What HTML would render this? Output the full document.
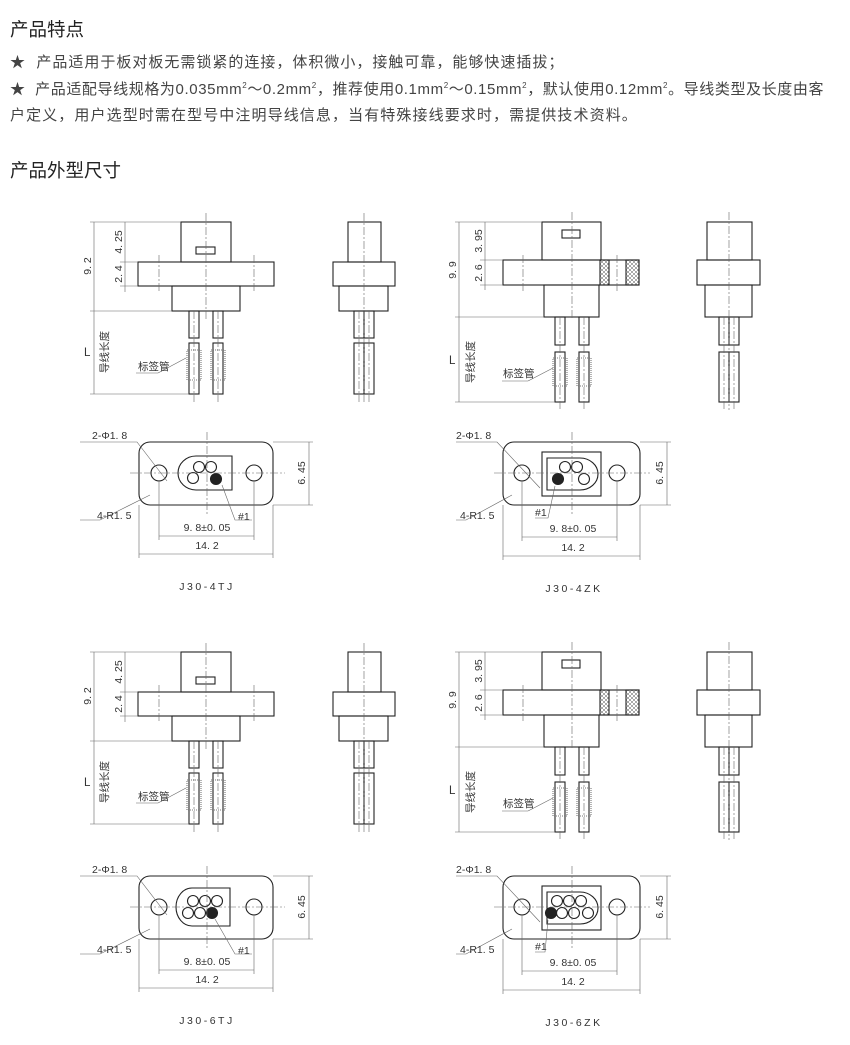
<!DOCTYPE html>
<html><head><meta charset="utf-8"><style>
body{margin:0;background:#fff;width:850px;height:1045px;overflow:hidden;font-family:"Liberation Sans","Noto Sans CJK SC",sans-serif;color:#333}
.t{position:absolute;left:10px;font-size:18.5px;color:#222}
.p{position:absolute;left:10px;font-size:15px;color:#444;white-space:nowrap;letter-spacing:1.1px}
sup{font-size:8px}
svg{position:absolute;left:0;top:0}
</style></head><body>
<div class="t" style="top:16px">产品特点</div>
<div class="p" style="top:51px;letter-spacing:1px">★&nbsp; 产品适用于板对板无需锁紧的连接，体积微小，接触可靠，能够快速插拔；</div>
<div class="p" style="top:78px;letter-spacing:0.6px">★&nbsp; 产品适配导线规格为0.035mm<sup>2</sup>～0.2mm<sup>2</sup>，推荐使用0.1mm<sup>2</sup>～0.15mm<sup>2</sup>，默认使用0.12mm<sup>2</sup>。导线类型及长度由客</div>
<div class="p" style="top:104px;letter-spacing:1.1px">户定义，用户选型时需在型号中注明导线信息，当有特殊接线要求时，需提供技术资料。</div>
<div class="t" style="top:157px">产品外型尺寸</div>
<svg width="850" height="1045" viewBox="0 0 850 1045">
<defs>
<pattern id="hx" width="4" height="4" patternUnits="userSpaceOnUse"><path d="M0 0L4 4M4 0L0 4" stroke="#555" stroke-width="0.5"/></pattern>
<g id="s4" fill="none" stroke="#222" stroke-width="1.1">
<rect x="181" y="222" width="50" height="40"/><rect x="196" y="247" width="19" height="7"/>
<rect x="138" y="262" width="136" height="24"/><rect x="172" y="286" width="68" height="25"/>
<rect x="189" y="311" width="10" height="27"/><rect x="213" y="311" width="10" height="27"/>
<rect x="189" y="343" width="10" height="51"/><rect x="213" y="343" width="10" height="51"/>
<rect x="187" y="350" width="14" height="30" stroke-dasharray="1 1" stroke="#777"/><rect x="211" y="350" width="14" height="30" stroke-dasharray="1 1" stroke="#777"/>
<g stroke="#666" stroke-width="0.6" stroke-dasharray="8 2 2 2"><path d="M206 213V320M194 311V402M218 311V402M159 255V292M254 255V292"/></g>
<g stroke="#666" stroke-width="0.6"><path d="M90 222H181M120 262H138M120 286H138M90 311H172M90 394H189M94 222V394M125 222V292"/><path d="M158 373L186 358"/><path d="M136 373H158"/></g>
<rect x="348" y="222" width="33" height="40"/><rect x="333" y="262" width="62" height="24"/><rect x="339" y="286" width="49" height="25"/>
<rect x="354" y="311" width="10" height="27"/><rect x="364" y="311" width="10" height="27"/>
<rect x="354" y="343" width="10" height="51"/><rect x="364" y="343" width="10" height="51"/>
<g stroke="#666" stroke-width="0.6" stroke-dasharray="8 2 2 2"><path d="M364 213V402M359 311V402M369 311V402"/></g>
</g>
<g id="sz" fill="none" stroke="#222" stroke-width="1.1">
<rect x="542" y="222" width="59" height="38"/><rect x="562" y="230" width="18" height="8"/>
<rect x="503" y="260" width="136" height="25"/><rect x="600" y="260" width="9" height="25" fill="url(#hx)"/><rect x="626" y="260" width="13" height="25" fill="url(#hx)"/>
<rect x="544" y="285" width="55" height="32"/>
<rect x="555" y="317" width="10" height="28"/><rect x="579" y="317" width="10" height="28"/>
<rect x="555" y="352" width="10" height="50"/><rect x="579" y="352" width="10" height="50"/>
<rect x="553" y="358" width="14" height="28" stroke-dasharray="1 1" stroke="#777"/><rect x="577" y="358" width="14" height="28" stroke-dasharray="1 1" stroke="#777"/>
<g stroke="#666" stroke-width="0.6" stroke-dasharray="8 2 2 2"><path d="M572 212V320M560 317V410M584 317V410M523 255V292M617 255V292"/></g>
<g stroke="#666" stroke-width="0.6"><path d="M455 222H542M480 260H503M480 285H503M455 317H544M455 402H555M459 222V402M485 222V290"/><path d="M528 381L553 368"/><path d="M502 381H528"/></g>
<rect x="707" y="222" width="45" height="38"/><rect x="697" y="260" width="63" height="25"/><rect x="705" y="285" width="47" height="32"/>
<rect x="719" y="317" width="10" height="28"/><rect x="729" y="317" width="10" height="28"/>
<rect x="719" y="352" width="10" height="50"/><rect x="729" y="352" width="10" height="50"/>
<g stroke="#666" stroke-width="0.6" stroke-dasharray="8 2 2 2"><path d="M729 212V410M724 317V410M734 317V410"/></g>
</g>
</defs>

<use href="#s4"/><use href="#sz"/>
<use href="#s4" transform="translate(0,430)"/><use href="#sz" transform="translate(0,430)"/>

<g font-size="10.5" fill="#333" font-family="Liberation Sans,Noto Sans CJK SC,sans-serif">
<g>
<text transform="translate(91,266) rotate(-90)" text-anchor="middle">9. 2</text>
<text transform="translate(122,242) rotate(-90)" text-anchor="middle">4. 25</text>
<text transform="translate(122,274) rotate(-90)" text-anchor="middle">2. 4</text>
<text x="84" y="356" font-size="11.5">L</text>
<text transform="translate(108,352) rotate(-90)" text-anchor="middle">导线长度</text>
<text x="138" y="370">标签管</text>
</g>
<g transform="translate(0,430)">
<text transform="translate(91,266) rotate(-90)" text-anchor="middle">9. 2</text>
<text transform="translate(122,242) rotate(-90)" text-anchor="middle">4. 25</text>
<text transform="translate(122,274) rotate(-90)" text-anchor="middle">2. 4</text>
<text x="84" y="356" font-size="11.5">L</text>
<text transform="translate(108,352) rotate(-90)" text-anchor="middle">导线长度</text>
<text x="138" y="370">标签管</text>
</g>
<g>
<text transform="translate(456,270) rotate(-90)" text-anchor="middle">9. 9</text>
<text transform="translate(482,241) rotate(-90)" text-anchor="middle">3. 95</text>
<text transform="translate(482,273) rotate(-90)" text-anchor="middle">2. 6</text>
<text x="449" y="364" font-size="11.5">L</text>
<text transform="translate(474,362) rotate(-90)" text-anchor="middle">导线长度</text>
<text x="503" y="377">标签管</text>
</g>
<g transform="translate(0,430)">
<text transform="translate(456,270) rotate(-90)" text-anchor="middle">9. 9</text>
<text transform="translate(482,241) rotate(-90)" text-anchor="middle">3. 95</text>
<text transform="translate(482,273) rotate(-90)" text-anchor="middle">2. 6</text>
<text x="449" y="364" font-size="11.5">L</text>
<text transform="translate(474,362) rotate(-90)" text-anchor="middle">导线长度</text>
<text x="503" y="377">标签管</text>
</g>
</g>

<g fill="none" stroke="#222" stroke-width="1.1">
<g>
<rect x="139" y="442" width="134" height="63" rx="11"/>
<circle cx="159" cy="473" r="8"/><circle cx="254" cy="473" r="8"/>
<path d="M196 456H232V490H196A18 17 0 0 1 196 456Z"/>
<circle cx="199" cy="467" r="5.5"/><circle cx="211" cy="467" r="5.5"/><circle cx="193" cy="478" r="5.5"/><circle cx="216" cy="479" r="5.5" fill="#222"/>
<g stroke="#666" stroke-width="0.6"><path d="M130 473H285M207 432V515" stroke-dasharray="8 2 2 2"/><path d="M273 442H313M273 505H313M309 442V505M159 480V540M254 480V540M139 505V558M273 505V558M159 536H254M139 554H273M80 442H137L167 481M80 520H100L150 495M222 485L235 520H252"/></g>
</g>
<g transform="translate(0,434)">
<rect x="139" y="442" width="134" height="63" rx="11"/>
<circle cx="159" cy="473" r="8"/><circle cx="254" cy="473" r="8"/>
<path d="M192 454H230V492H192A16 19 0 0 1 192 454Z"/>
<circle cx="193" cy="467" r="5.5"/><circle cx="205" cy="467" r="5.5"/><circle cx="217" cy="467" r="5.5"/>
<circle cx="188" cy="479" r="5.5"/><circle cx="200" cy="479" r="5.5"/><circle cx="212" cy="479" r="5.5" fill="#222"/>
<g stroke="#666" stroke-width="0.6"><path d="M130 473H285M207 432V515" stroke-dasharray="8 2 2 2"/><path d="M273 442H313M273 505H313M309 442V505M159 480V540M254 480V540M139 505V558M273 505V558M159 536H254M139 554H273M80 442H137L167 481M80 520H100L150 495M215 485L235 520H252"/></g>
</g>
<g>
<rect x="503" y="442" width="137" height="63" rx="11"/>
<circle cx="522" cy="473" r="8"/><circle cx="617" cy="473" r="8"/>
<rect x="542" y="452" width="59" height="44"/>
<path d="M547 458H580A18 16 0 0 1 580 490H547Z"/>
<circle cx="565" cy="467" r="5.5"/><circle cx="577" cy="467" r="5.5"/><circle cx="584" cy="479" r="5.5"/><circle cx="558" cy="479" r="5.5" fill="#222"/>
<g stroke="#666" stroke-width="0.6"><path d="M494 473H650M572 432V515" stroke-dasharray="8 2 2 2"/><path d="M640 442H671M640 505H671M667 442V505M522 480V541M617 480V541M503 505V560M640 505V560M522 537H617M503 556H640M456 442H497L540 488M456 520H466L512 495M555 486L548 518H535"/></g>
</g>
<g transform="translate(0,434)">
<rect x="503" y="442" width="137" height="63" rx="11"/>
<circle cx="522" cy="473" r="8"/><circle cx="617" cy="473" r="8"/>
<rect x="542" y="452" width="59" height="44"/>
<path d="M547 458H580A18 16 0 0 1 580 490H547Z"/>
<circle cx="557" cy="467" r="5.5"/><circle cx="569" cy="467" r="5.5"/><circle cx="581" cy="467" r="5.5"/>
<circle cx="562" cy="479" r="5.5"/><circle cx="574" cy="479" r="5.5"/><circle cx="588" cy="479" r="5.5"/><circle cx="551" cy="479" r="5.5" fill="#222"/>
<g stroke="#666" stroke-width="0.6"><path d="M494 473H650M572 432V515" stroke-dasharray="8 2 2 2"/><path d="M640 442H671M640 505H671M667 442V505M522 480V541M617 480V541M503 505V560M640 505V560M522 537H617M503 556H640M456 442H497L540 488M456 520H466L512 495M548 486L545 518H535"/></g>
</g>
</g>

<g font-size="10.5" fill="#333" font-family="Liberation Sans,sans-serif">
<g>
<text x="92" y="439">2-Φ1. 8</text><text x="97" y="519">4-R1. 5</text><text x="238" y="520">#1</text>
<text x="207" y="531" text-anchor="middle">9. 8±0. 05</text><text x="207" y="549" text-anchor="middle">14. 2</text>
<text transform="translate(305,473) rotate(-90)" text-anchor="middle">6. 45</text>
<text x="207" y="590" text-anchor="middle" letter-spacing="2.5">J30-4TJ</text>
</g>
<g transform="translate(0,434)">
<text x="92" y="439">2-Φ1. 8</text><text x="97" y="519">4-R1. 5</text><text x="238" y="520">#1</text>
<text x="207" y="531" text-anchor="middle">9. 8±0. 05</text><text x="207" y="549" text-anchor="middle">14. 2</text>
<text transform="translate(305,473) rotate(-90)" text-anchor="middle">6. 45</text>
<text x="207" y="590" text-anchor="middle" letter-spacing="2.5">J30-6TJ</text>
</g>
<g>
<text x="456" y="439">2-Φ1. 8</text><text x="460" y="519">4-R1. 5</text><text x="535" y="516">#1</text>
<text x="573" y="532" text-anchor="middle">9. 8±0. 05</text><text x="573" y="551" text-anchor="middle">14. 2</text>
<text transform="translate(663,473) rotate(-90)" text-anchor="middle">6. 45</text>
<text x="574" y="592" text-anchor="middle" letter-spacing="2.5">J30-4ZK</text>
</g>
<g transform="translate(0,434)">
<text x="456" y="439">2-Φ1. 8</text><text x="460" y="519">4-R1. 5</text><text x="535" y="516">#1</text>
<text x="573" y="532" text-anchor="middle">9. 8±0. 05</text><text x="573" y="551" text-anchor="middle">14. 2</text>
<text transform="translate(663,473) rotate(-90)" text-anchor="middle">6. 45</text>
<text x="574" y="592" text-anchor="middle" letter-spacing="2.5">J30-6ZK</text>
</g>
</g>
</svg>
</body></html>
